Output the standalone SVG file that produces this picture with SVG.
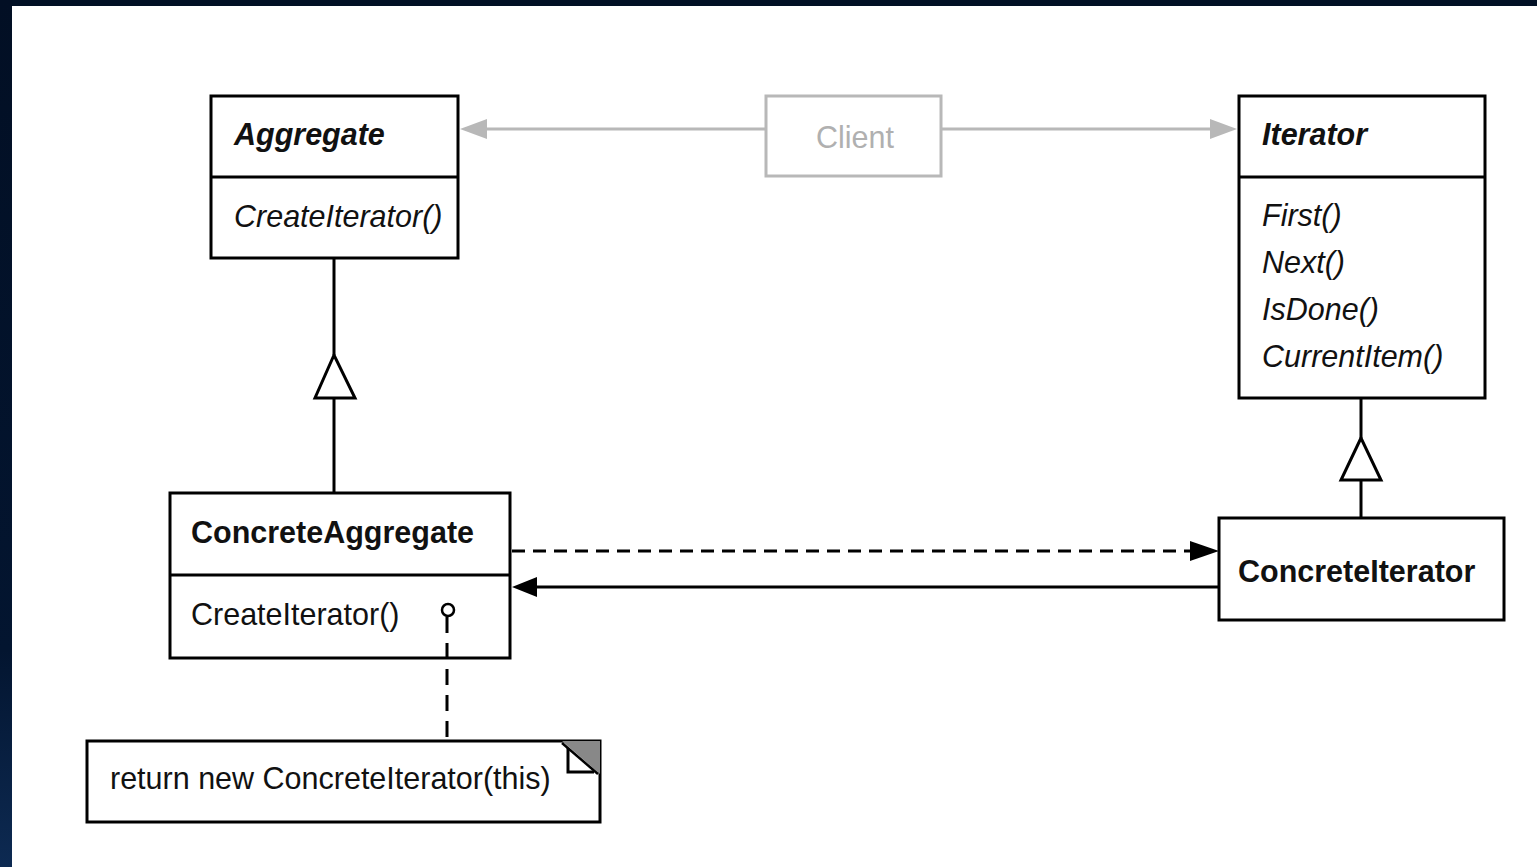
<svg xmlns="http://www.w3.org/2000/svg" width="1537" height="867" viewBox="0 0 1537 867">
<defs>
<linearGradient id="side" x1="0" y1="0" x2="0" y2="1">
<stop offset="0" stop-color="#020f24"/>
<stop offset="0.75" stop-color="#031530"/>
<stop offset="1" stop-color="#0d2a52"/>
</linearGradient>
<style>
.box{fill:#fff;stroke:#000;stroke-width:3}
.gbox{fill:#fff;stroke:#b8b8b8;stroke-width:3}
.ln{stroke:#000;stroke-width:3;fill:none}
.gln{stroke:#b8b8b8;stroke-width:3;fill:none}
.dash{stroke:#000;stroke-width:3;fill:none;stroke-dasharray:13 8}
.t{font-family:"Liberation Sans",Arial,sans-serif;font-size:30.5px;fill:#111}
.b{font-weight:bold}
.i{font-style:italic}
.tri{fill:#fff;stroke:#000;stroke-width:3}
</style>
</defs>
<rect x="0" y="0" width="1537" height="867" fill="#fff"/>
<rect x="0" y="0" width="1537" height="6" fill="#011025"/>
<rect x="0" y="0" width="12" height="867" fill="url(#side)"/>

<g id="aggregate">
<rect class="box" x="211" y="96" width="247" height="162"/>
<line class="ln" x1="211" y1="177" x2="458" y2="177"/>
<text class="t b i" x="234" y="145">Aggregate</text>
<text class="t i" x="234" y="227">CreateIterator()</text>
</g>

<g id="client">
<rect class="gbox" x="766" y="96" width="175" height="80"/>
<text class="t" x="855" y="148" text-anchor="middle" style="fill:#b0b0b0">Client</text>
</g>

<g id="iterator">
<rect class="box" x="1239" y="96" width="246" height="302"/>
<line class="ln" x1="1239" y1="177" x2="1485" y2="177"/>
<text class="t b i" x="1262" y="145">Iterator</text>
<text class="t i" x="1262" y="226">First()</text>
<text class="t i" x="1262" y="273">Next()</text>
<text class="t i" x="1262" y="320">IsDone()</text>
<text class="t i" x="1262" y="367">CurrentItem()</text>
</g>

<g id="concreteaggregate">
<rect class="box" x="170" y="493" width="340" height="165"/>
<line class="ln" x1="170" y1="575" x2="510" y2="575"/>
<text class="t b" x="191" y="543">ConcreteAggregate</text>
<text class="t" x="191" y="625">CreateIterator()</text>
</g>

<g id="concreteiterator">
<rect class="box" x="1219" y="518" width="285" height="102"/>
<text class="t b" x="1238" y="582">ConcreteIterator</text>
</g>

<g id="note">
<rect class="box" x="87" y="741" width="513" height="81"/>
<polygon points="562,741 600,741 600,774" fill="#888"/>
<polyline points="562,743 598,774" stroke="#000" stroke-width="2.5" fill="none"/>
<polyline points="568,748 568,772 594,772" stroke="#000" stroke-width="3" fill="none"/>
<text class="t" x="110" y="789">return new ConcreteIterator(this)</text>
</g>

<g id="connectors">
<line class="gln" x1="766" y1="129" x2="475" y2="129"/>
<polygon points="460,129 487,119 487,139" fill="#b8b8b8"/>
<line class="gln" x1="941" y1="129" x2="1222" y2="129"/>
<polygon points="1237,129 1210,119 1210,139" fill="#b8b8b8"/>
<line class="ln" x1="334" y1="258" x2="334" y2="355"/>
<polygon class="tri" points="334,355 315,398 355,398"/>
<line class="ln" x1="334" y1="398" x2="334" y2="493"/>
<line class="ln" x1="1361" y1="398" x2="1361" y2="438"/>
<polygon class="tri" points="1361,438 1341,480 1381,480"/>
<line class="ln" x1="1361" y1="480" x2="1361" y2="518"/>
<line class="dash" x1="512" y1="551" x2="1195" y2="551"/>
<polygon points="1219,551 1190,541 1190,561" fill="#000"/>
<line class="ln" x1="1219" y1="587" x2="530" y2="587"/>
<polygon points="512,587 537,577 537,597" fill="#000"/>
<circle cx="448" cy="610" r="6" fill="#fff" stroke="#000" stroke-width="2.5"/>
<line x1="447" y1="617" x2="447" y2="740" stroke="#000" stroke-width="3" stroke-dasharray="16 10"/>
</g>
</svg>
